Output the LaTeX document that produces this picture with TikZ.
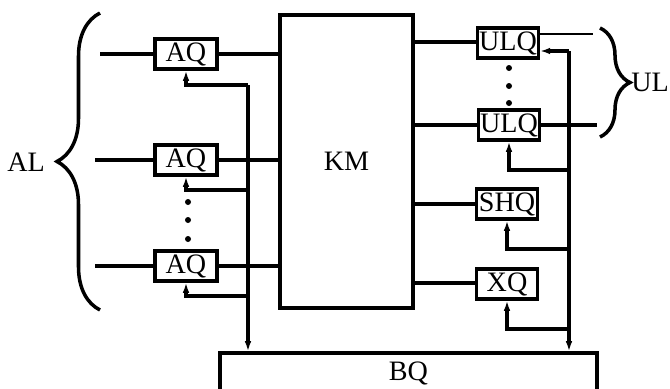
\documentclass[tikz,border=0pt]{standalone}
\usepackage{fontspec}
\setmainfont{Liberation Serif}
\usetikzlibrary{positioning}
\usetikzlibrary{arrows.meta}
\usetikzlibrary{decorations.pathreplacing}
\tikzset{circ/.style = {fill, circle, inner sep = 0, minimum size = 0.18cm}}
\tikzset{blk/.style = {draw, rectangle, inner sep = 0, minimum width = 1.86cm, minimum height = 0.9cm}}
\tikzset{fb/.style = {-{Latex[length=0.3cm,width=0.2cm]}}}

\begin{document}
\begin{tikzpicture}[x=0.03cm, y=-0.03cm, line width=3pt, font=\fontsize{24}{28}\selectfont]
      \useasboundingbox (0,0) rectangle (670,388);
      % blocks
      \node[blk, minimum width=3.99cm, minimum height=8.79cm] (km) at (346.5,161.5) {KM};
      \node[blk, minimum width=11.31cm, minimum height=1.2cm] (bq) at (408.5,373) {BQ};
      \node[blk] (aq1) at (186,54) {AQ};
      \node[blk] (aq2) at (186,160) {AQ};
      \node[blk] (aq3) at (186,266) {AQ};
      \node[blk, minimum width=1.82cm] (ulq1) at (508,43) {ULQ};
      \node[blk, minimum width=1.82cm] (ulq2) at (509,125) {ULQ};
      \node[blk, minimum width=1.82cm] (shq) at (507,204) {SHQ};
      \node[blk, minimum width=1.82cm] (xq) at (507,284) {XQ};
      % dots
      \node[circ] (d1) at (188,202) {};
      \node[circ] (d2) at (188,220) {};
      \node[circ] (d3) at (188,239) {};
      \node[circ] (d4) at (509,68) {};
      \node[circ] (d5) at (509,86) {};
      \node[circ] (d6) at (509,103) {};
      % inputs and outputs
      \coordinate (in1) at (100,54);
      \coordinate (in2) at (95,160);
      \coordinate (in3) at (95,266);
      \coordinate (out1) at (593,34);
      \coordinate (out2) at (597,125);
      \draw (in1) -- (aq1);
      \draw (in2) -- (aq2);
      \draw (in3) -- (aq3);
      \draw (aq1) -- (aq1 -| km.west);
      \draw (aq2) -- (aq2 -| km.west);
      \draw (aq3) -- (aq3 -| km.west);
      \draw (km.east |- 0,42) -- (ulq1.west |- 0,42);
      \draw (km.east |- ulq2) -- (ulq2);
      \draw (km.east |- shq) -- (shq);
      \draw (km.east |- 0,283) -- (xq.west |- 0,283);
      \draw[line width=1.1pt] (out1 -| ulq1.east) -- (out1);
      \draw (ulq2) -- (out2);
      % left bus
      \coordinate (lb1) at (248,85);
      \coordinate (lb2) at (248,190);
      \coordinate (lb3) at (248,296);
      \draw[fb] (lb1) -- (lb1 |- bq.north);
      \draw[fb] (lb1) -| (aq1.south);
      \draw[fb] (lb2) -| (aq2.south);
      \draw[fb] (lb3) -| (aq3.south);
      % right bus
      \coordinate (rb1) at (569,51);
      \coordinate (rb2) at (569,170);
      \coordinate (rb3) at (569,249);
      \coordinate (rb4) at (569,329);
      \draw[fb] (rb1) -- (rb1 |- bq.north);
      \draw[fb] (rb1) -- (rb1 -| ulq1.east);
      \draw[fb] (rb2) -| (ulq2.south);
      \draw[fb] (rb3) -| (shq.south);
      \draw[fb] (rb4) -| (xq.south);
      % braces
      \draw[decorate, decoration={brace, amplitude=1.29cm}] (100,310) -- (100,13);
      \draw[decorate, decoration={brace, amplitude=0.9cm}] (600,28) -- (600,137);
      \node (al) at (26,162) {AL};
      \node (ul) at (650,82) {UL};
\end{tikzpicture}
\end{document}
